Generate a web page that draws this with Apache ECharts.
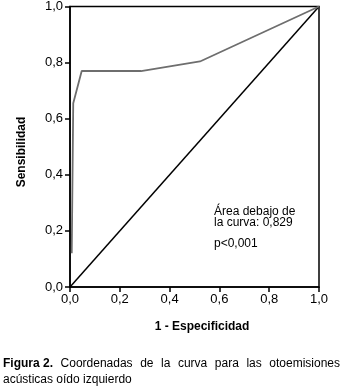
<!DOCTYPE html>
<html>
<head>
<meta charset="utf-8">
<script src="https://cdn.jsdelivr.net/npm/echarts@6/dist/echarts.min.js"></script>
<style>
  html, body { margin: 0; padding: 0; background: #fff; }
  #chart { width: 345px; height: 389px; }
</style>
</head>
<body>
<div id="chart"></div>
<script>
// datos
var fpr = [0.007, 0.013, 0.047, 0.285, 0.522, 1.0];
var tpr = [0.12, 0.655, 0.77, 0.77, 0.804, 1.0];
var refLine = [[0, 0], [1, 1]];
var tickLabels = ['0,0', '0,2', '0,4', '0,6', '0,8', '1,0'];

var curve = fpr.map(function (x, i) { return [x, tpr[i]]; });
var fmt = function (v) { return tickLabels[Math.round(v * 5)]; };
var font = 'Liberation Sans, Arial, sans-serif';

// caption first line is justified between x=3 and x=340
var captionWords = ['Figura 2.', 'Coordenadas', 'de', 'la', 'curva', 'para', 'las', 'otoemisiones'];
var ctx = document.createElement('canvas').getContext('2d');
var wordFont = function (i) { return (i === 0 ? 'bold ' : '') + '12px ' + font; };
var widths = captionWords.map(function (w, i) {
  ctx.font = wordFont(i);
  return ctx.measureText(w).width;
});
var total = widths.reduce(function (a, b) { return a + b; }, 0);
var gap = (337 - total) / (captionWords.length - 1);

var graphic = [];
var cx = 3;
captionWords.forEach(function (w, i) {
  graphic.push({
    type: 'text', x: cx, y: 358,
    style: { text: w, font: wordFont(i), fill: '#000' }
  });
  cx += widths[i] + gap;
});
graphic.push({
  type: 'text', x: 3, y: 374,
  style: { text: 'acústicas oído izquierdo', font: '12px ' + font, fill: '#000' }
});
graphic.push({
  type: 'text', x: 214, y: 206,
  style: { text: 'Área debajo de\nla curva: 0,829', font: '12px ' + font, fill: '#000', lineHeight: 11 }
});
graphic.push({
  type: 'text', x: 214, y: 238,
  style: { text: 'p<0,001', font: '12px ' + font, fill: '#000' }
});
// axis titles
graphic.push({
  type: 'text', x: 22, y: 152, rotation: Math.PI / 2,
  style: { text: 'Sensibilidad', font: 'bold 12px ' + font, fill: '#000', align: 'center', verticalAlign: 'middle' }
});
graphic.push({
  type: 'text', x: 202, y: 327,
  style: { text: '1 - Especificidad', font: 'bold 12px ' + font, fill: '#000', align: 'center', verticalAlign: 'middle' }
});

var chart = echarts.init(document.getElementById('chart'));
chart.setOption({
  animation: false,
  backgroundColor: '#fff',
  grid: {
    left: 70, right: 26, top: 6, bottom: 102,
    show: true, borderColor: '#000', borderWidth: 1.5
  },
  xAxis: {
    type: 'value', min: 0, max: 1, interval: 0.2,
    axisLine: { lineStyle: { color: '#000', width: 1.5 } },
    axisTick: { show: true, length: 5, lineStyle: { color: '#000', width: 1.5 } },
    axisLabel: { formatter: fmt, color: '#000', fontFamily: font, fontSize: 13, margin: 6 },
    splitLine: { show: false }
  },
  yAxis: {
    type: 'value', min: 0, max: 1, interval: 0.2,
    axisLine: { lineStyle: { color: '#000', width: 1.5 } },
    axisTick: { show: true, length: 5, lineStyle: { color: '#000', width: 1.5 } },
    axisLabel: { formatter: fmt, color: '#000', fontFamily: font, fontSize: 13, margin: 7 },
    splitLine: { show: false }
  },
  series: [
    {
      type: 'line', data: refLine, symbol: 'none',
      lineStyle: { color: '#000', width: 1.5 }
    },
    {
      type: 'line', data: curve, symbol: 'none',
      lineStyle: { color: '#6e6e6e', width: 1.8 }
    }
  ],
  graphic: graphic
});
</script>
</body>
</html>
